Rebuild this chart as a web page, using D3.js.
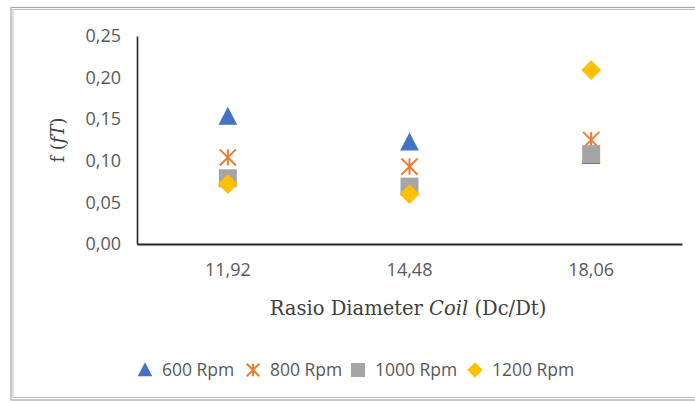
<!DOCTYPE html>
<html><head><meta charset="utf-8">
<script src="https://cdn.jsdelivr.net/npm/d3@7"></script>
<style>body{margin:0;background:#fff}svg{display:block}</style>
</head><body>
<svg id="c" width="695" height="403"></svg>
<script>
const categories = ["11,92", "14,48", "18,06"];
const seriesNames = ["600 Rpm", "800 Rpm", "1000 Rpm", "1200 Rpm"];
const s600 = [0.153, 0.122, 0.106];
const s800 = [0.104, 0.093, 0.125];
const s1000 = [0.079, 0.069, 0.108];
const s1200 = [0.072, 0.060, 0.209];
const yTicks = [0, 0.05, 0.10, 0.15, 0.20, 0.25];

const seriesValues = [s600, s800, s1000, s1200];
const colors = ["#4472C4", "#ED7D31", "#A5A5A5", "#FFC000"];
const shapes = ["triangle", "star", "square", "diamond"];

const svg = d3.select("#c");
const m = {l:137, r:682, t:36, b:244};

// border (double gray)
svg.append("rect").attr("x",11).attr("y",7.5).attr("width",700).attr("height",392.5)
  .attr("fill","none").attr("stroke","#a6a6a6").attr("stroke-width",1.2);
svg.append("rect").attr("x",13).attr("y",9.5).attr("width",700).attr("height",388)
  .attr("fill","none").attr("stroke","#bfbfbf").attr("stroke-width",1);

const x = d3.scaleBand().domain(categories).range([m.l, m.r]);
const y = d3.scaleLinear().domain([0, 0.25]).range([m.b, m.t]);

const fmt = d => d3.format(".2f")(d).replace(".", ",");

// y axis
const ya = svg.append("g").attr("transform",`translate(${m.l},0)`)
  .call(d3.axisLeft(y).tickValues(yTicks).tickFormat(fmt).tickSize(0).tickPadding(16));
ya.select(".domain").attr("stroke","#262626").attr("stroke-width",1.6);
ya.selectAll("text").attr("font-family","Open Sans, sans-serif").attr("font-size",18).attr("fill","#595959");

// x axis
const xa = svg.append("g").attr("transform",`translate(0,${m.b})`)
  .call(d3.axisBottom(x).tickSize(0).tickPadding(19));
xa.select(".domain").attr("stroke","#262626").attr("stroke-width",1.8);
xa.selectAll("text").attr("font-family","Open Sans, sans-serif").attr("font-size",18).attr("fill","#595959");

// axis titles
const xt = svg.append("text").attr("x",408).attr("y",315).attr("text-anchor","middle")
  .attr("font-family","DejaVu Serif, serif").attr("font-size",19.5).attr("fill","#404040");
xt.append("tspan").text("Rasio Diameter ");
xt.append("tspan").attr("font-style","italic").text("Coil");
xt.append("tspan").text(" (Dc/Dt)");

const yt = svg.append("text").attr("transform","translate(64,140) rotate(-90)").attr("text-anchor","middle")
  .attr("font-family","DejaVu Serif, serif").attr("font-size",18).attr("fill","#404040");
yt.append("tspan").text("f (");
yt.append("tspan").attr("font-style","italic").text("fT");
yt.append("tspan").text(")");

function marker(g, shape, color, cx, cy, s) {
  if (shape === "triangle") {
    g.append("path").attr("d",`M${cx},${cy-s*0.55}L${cx+s*0.52},${cy+s*0.45}L${cx-s*0.52},${cy+s*0.45}Z`).attr("fill",color);
  } else if (shape === "square") {
    g.append("rect").attr("x",cx-s/2).attr("y",cy-s/2).attr("width",s).attr("height",s).attr("fill",color);
  } else if (shape === "diamond") {
    const h = s*0.55;
    g.append("path").attr("d",`M${cx},${cy-h}L${cx+h},${cy}L${cx},${cy+h}L${cx-h},${cy}Z`).attr("fill",color);
  } else {
    const h = s*0.45;
    g.append("path").attr("d",`M${cx},${cy-h}L${cx},${cy+h}M${cx-h},${cy-h}L${cx+h},${cy+h}M${cx+h},${cy-h}L${cx-h},${cy+h}`)
      .attr("stroke",color).attr("stroke-width",2).attr("fill","none");
  }
}

const pts = svg.append("g");
seriesValues.forEach((vals, si) => {
  vals.forEach((v, ci) => {
    marker(pts, shapes[si], colors[si], x(categories[ci]) + x.bandwidth()/2, y(v), 18);
  });
});

// legend
const legX = [145, 253, 358, 475];
const lg = svg.append("g");
seriesNames.forEach((n, i) => {
  marker(lg, shapes[i], colors[i], legX[i], 370, 14);
  lg.append("text").attr("x", legX[i]+17).attr("y", 376).text(n)
    .attr("font-family","Open Sans, sans-serif").attr("font-size",17.5).attr("fill","#595959");
});
</script>
</body></html>
